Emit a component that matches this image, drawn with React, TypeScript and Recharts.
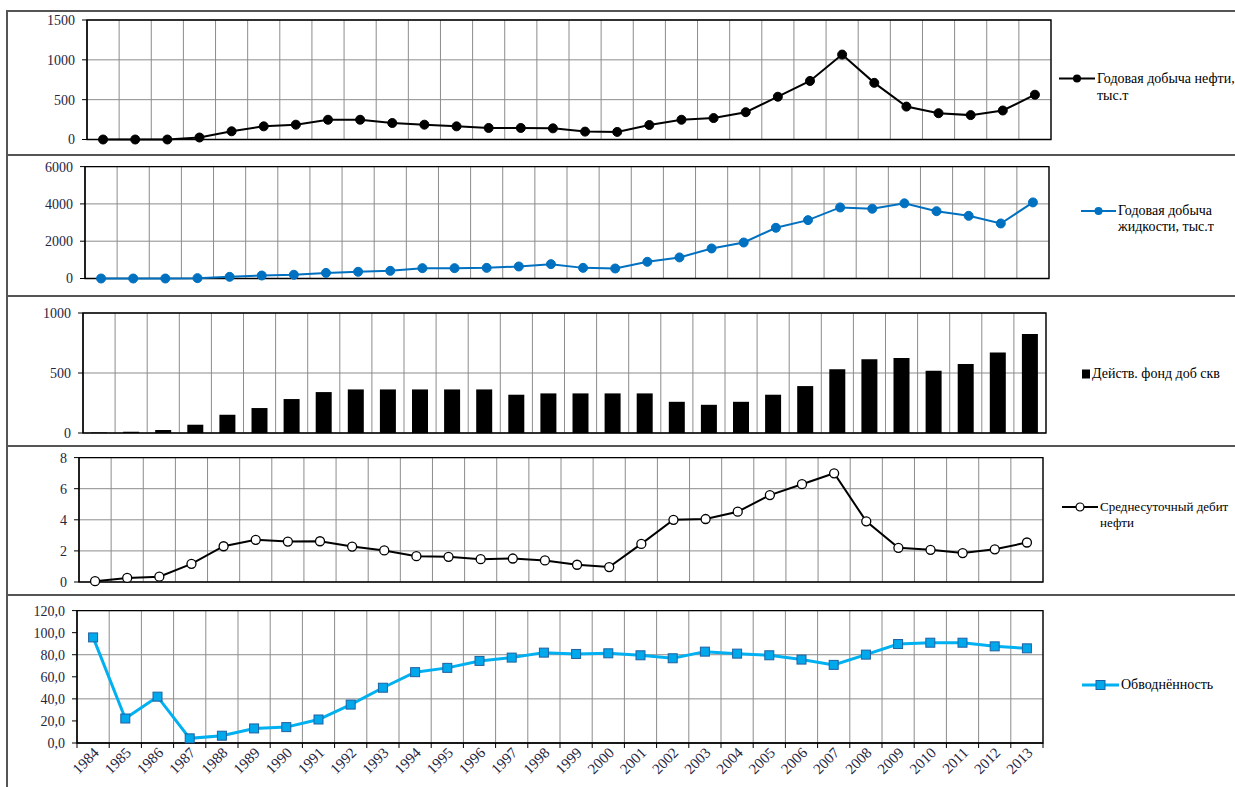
import React from 'react';
import { ComposedChart, Line, Bar, XAxis, YAxis, CartesianGrid, ReferenceArea, Legend } from 'recharts';

const years = ['1984','1985','1986','1987','1988','1989','1990','1991','1992','1993','1994','1995','1996','1997','1998','1999','2000','2001','2002','2003','2004','2005','2006','2007','2008','2009','2010','2011','2012','2013'];
const oilProduction = [0,0,0,25,103,165,186,248,248,207,186,165,145,145,140,99,95,182,248,269,343,537,735,1066,711,413,330,306,364,562];
const liquidProduction = [0,0,0,20,90,160,200,300,360,410,555,555,570,645,770,570,537,895,1130,1610,1930,2720,3130,3810,3740,4030,3610,3360,2950,4080];
const activeWells = [4,11,25,69,152,208,283,341,363,363,363,363,363,319,330,330,330,330,260,235,260,319,391,532,615,626,518,576,670,825];
const avgOilRate = [0.05,0.26,0.34,1.17,2.3,2.71,2.6,2.62,2.28,2.03,1.66,1.62,1.47,1.51,1.39,1.11,0.96,2.45,4.0,4.05,4.52,5.59,6.29,6.99,3.9,2.2,2.07,1.86,2.1,2.54];
const waterCut = [95.7,22.2,42,4.2,6.6,13.2,14.4,21.3,34.8,50.1,64.2,68.1,74.4,77.4,81.9,80.7,81.3,79.5,76.8,82.8,81,79.5,75.6,70.8,80.1,89.7,90.9,90.9,87.6,85.8];

const ticksOil = [0, 500, 1000, 1500];
const ticksLiquid = [0, 2000, 4000, 6000];
const ticksWells = [0, 500, 1000];
const ticksRate = [0, 2, 4, 6, 8];
const ticksCut = [0, 20, 40, 60, 80, 100, 120];

const data = years.map((year, i) => ({
  year,
  oil: oilProduction[i],
  liquid: liquidProduction[i],
  wells: activeWells[i],
  rate: avgOilRate[i],
  cut: waterCut[i],
}));

const FONT = '"Liberation Serif", "Times New Roman", serif';
const W = 1235;
const GRID = '#8c8c8c';
const TICK_COLOR = '#25253f';

const vGen = (props: any) => {
  const off = props.offset;
  const n = years.length;
  const out: number[] = [];
  for (let i = 0; i <= n; i++) out.push(off.left + (i * off.width) / n);
  return out;
};

type IconKind = 'lineDot' | 'lineCircle' | 'lineSquare' | 'square';

const makeLegend = (kind: IconKind, color: string, iconW: number, textW: number | undefined, lh: number, fs: number = 14) => (props: any) => {
  const name = props?.payload?.[0]?.value ?? '';
  const cy = lh / 2;
  let icon: React.ReactNode = null;
  if (kind === 'square') {
    icon = <rect x={0} y={cy - 4.5} width={8} height={9} fill={color} />;
  } else {
    const mx = iconW / 2;
    icon = (
      <g>
        <line x1={0} x2={iconW} y1={cy} y2={cy} stroke={color} strokeWidth={kind === 'lineSquare' ? 3 : 2} />
        {kind === 'lineDot' && <circle cx={mx} cy={cy} r={4} fill={color} />}
        {kind === 'lineCircle' && <circle cx={mx} cy={cy} r={4} fill="#fff" stroke="#000" strokeWidth={1.2} />}
        {kind === 'lineSquare' && <rect x={mx - 4.5} y={cy - 4.5} width={9} height={9} fill="#00a8ec" stroke="#2060a0" strokeWidth={1} />}
      </g>
    );
  }
  return (
    <div style={{ display: 'flex', alignItems: 'flex-start', fontFamily: FONT, fontSize: fs, lineHeight: `${lh}px`, color: '#000' }}>
      <svg width={iconW + 2} height={lh} style={{ flex: 'none' }}>{icon}</svg>
      <div style={{ width: textW, whiteSpace: textW ? 'normal' : 'nowrap' }}>{name}</div>
    </div>
  );
};

const yTick = { fontFamily: FONT, fontSize: 14, fill: TICK_COLOR };

const YearTick = (props: any) => {
  const { x, y, payload } = props;
  const half = typeof payload?.offset === 'number' && payload.offset > 0 ? payload.offset : 16;
  const isLast = payload?.index === years.length - 1;
  return (
    <g>
      <line x1={x - half} x2={x - half} y1={y - 7} y2={y - 2} stroke="#000" strokeWidth={1} />
      {isLast && <line x1={x + half} x2={x + half} y1={y - 7} y2={y - 2} stroke="#000" strokeWidth={1} />}
      <text x={x + 3} y={y} transform={`rotate(-45 ${x + 3} ${y})`} textAnchor="end" dy="0.35em" fontFamily={FONT} fontSize={15} fill={TICK_COLOR}>
        {payload.value}
      </text>
    </g>
  );
};

const SquareDot = (props: any) => {
  const { cx, cy, index } = props;
  if (cx == null || cy == null) return <g key={`sq-${index}`} />;
  return <rect key={`sq-${index}`} x={cx - 4.5} y={cy - 4.5} width={9} height={9} fill="#00a8ec" stroke="#2060a0" strokeWidth={1} />;
};

const Frame = () => (
  <>
    <div style={{ position: 'absolute', left: 6, top: 10, width: 1240, height: 800, borderLeft: '2px solid #555', borderTop: '2px solid #555', boxSizing: 'border-box' }} />
    {[154, 295, 445, 594].map((y) => (
      <div key={y} style={{ position: 'absolute', left: 6, top: y, width: 1240, height: 2, background: '#555' }} />
    ))}
  </>
);

export default function App() {
  return (
    <div style={{ position: 'absolute', left: 0, top: 0, width: W, height: 787, background: '#fff', overflow: 'hidden' }}>
      <Frame />

      {/* Panel 1 */}
      <div style={{ position: 'absolute', left: 0, top: 12 }}>
        <ComposedChart width={W} height={142} data={data} margin={{ top: 8, right: W - 1051, bottom: 14.5, left: 0 }}>
          <CartesianGrid stroke={GRID} verticalCoordinatesGenerator={vGen} />
          <XAxis dataKey="year" scale="band" hide />
          <YAxis width={87} domain={[0, 1500]} ticks={ticksOil} tick={yTick} tickSize={5} tickMargin={7} stroke="#000" />
          <ReferenceArea y1={0} y2={1500} fill="none" stroke="#000" strokeWidth={1.3} ifOverflow="visible" />
          <Line dataKey="oil" name="Годовая добыча нефти, тыс.т" stroke="#000" strokeWidth={2} dot={{ r: 4.5, fill: '#000', stroke: '#000', strokeWidth: 1 }} isAnimationActive={false} />
          <Legend layout="vertical" align="center" verticalAlign="middle" wrapperStyle={{ left: 1059, top: 57.5, width: 180 }} content={makeLegend('lineDot', '#000', 36, 140, 17)} />
        </ComposedChart>
      </div>

      {/* Panel 2 */}
      <div style={{ position: 'absolute', left: 0, top: 156 }}>
        <ComposedChart width={W} height={139} data={data} margin={{ top: 10.6, right: W - 1049, bottom: 16.5, left: 0 }}>
          <CartesianGrid stroke={GRID} verticalCoordinatesGenerator={vGen} />
          <XAxis dataKey="year" scale="band" hide />
          <YAxis width={85} domain={[0, 6000]} ticks={ticksLiquid} tick={yTick} tickSize={5} tickMargin={7} stroke="#000" />
          <ReferenceArea y1={0} y2={6000} fill="none" stroke="#000" strokeWidth={1.3} ifOverflow="visible" />
          <Line dataKey="liquid" name="Годовая добыча жидкости, тыс.т" stroke="#0070c0" strokeWidth={2} dot={{ r: 4.5, fill: '#0070c0', stroke: '#0070c0', strokeWidth: 1 }} isAnimationActive={false} />
          <Legend layout="vertical" align="center" verticalAlign="middle" wrapperStyle={{ left: 1081, top: 47, width: 150 }} content={makeLegend('lineDot', '#0070c0', 35, 105, 16)} />
        </ComposedChart>
      </div>

      {/* Panel 3 */}
      <div style={{ position: 'absolute', left: 0, top: 297 }}>
        <ComposedChart width={W} height={148} data={data} margin={{ top: 16, right: W - 1046, bottom: 12, left: 0 }}>
          <CartesianGrid stroke={GRID} verticalCoordinatesGenerator={vGen} />
          <XAxis dataKey="year" scale="band" hide />
          <YAxis width={83} domain={[0, 1000]} ticks={ticksWells} tick={yTick} tickSize={5} tickMargin={7} stroke="#000" />
          <ReferenceArea y1={0} y2={1000} fill="none" stroke="#000" strokeWidth={1.3} ifOverflow="visible" />
          <Bar dataKey="wells" name="Действ. фонд доб скв" fill="#000" barSize={16} isAnimationActive={false} />
          <Legend layout="vertical" align="center" verticalAlign="middle" wrapperStyle={{ left: 1082, top: 69, width: 150 }} content={makeLegend('square', '#000', 8, undefined, 16)} />
        </ComposedChart>
      </div>

      {/* Panel 4 */}
      <div style={{ position: 'absolute', left: 0, top: 447 }}>
        <ComposedChart width={W} height={147} data={data} margin={{ top: 10.6, right: W - 1043, bottom: 12, left: 0 }}>
          <CartesianGrid stroke={GRID} verticalCoordinatesGenerator={vGen} />
          <XAxis dataKey="year" scale="band" hide />
          <YAxis width={79} domain={[0, 8]} ticks={ticksRate} tick={yTick} tickSize={5} tickMargin={7} stroke="#000" />
          <ReferenceArea y1={0} y2={8} fill="none" stroke="#000" strokeWidth={1.3} ifOverflow="visible" />
          <Line dataKey="rate" name="Среднесуточный дебит нефти" stroke="#000" strokeWidth={2} dot={{ r: 4.5, fill: '#fff', stroke: '#000', strokeWidth: 1.3 }} isAnimationActive={false} />
          <Legend layout="vertical" align="center" verticalAlign="middle" wrapperStyle={{ left: 1062, top: 52, width: 175 }} content={makeLegend('lineCircle', '#000', 36, 135, 16, 13)} />
        </ComposedChart>
      </div>

      {/* Panel 5 */}
      <div style={{ position: 'absolute', left: 0, top: 596 }}>
        <ComposedChart width={W} height={191} data={data} margin={{ top: 14.6, right: W - 1043, bottom: 0, left: 0 }}>
          <CartesianGrid stroke={GRID} verticalCoordinatesGenerator={vGen} />
          <XAxis dataKey="year" scale="band" height={44} interval={0} tickLine={false} tickSize={5} tickMargin={2} tick={<YearTick />} stroke="#000" />
          <YAxis width={77} domain={[0, 120]} ticks={ticksCut} tick={yTick} tickSize={5} tickMargin={7} stroke="#000" tickFormatter={(v: number) => v.toFixed(1).replace('.', ',')} />
          <ReferenceArea y1={0} y2={120} fill="none" stroke="#000" strokeWidth={1.3} ifOverflow="visible" />
          <Line dataKey="cut" name="Обводнённость" stroke="#00b0f0" strokeWidth={3} dot={<SquareDot />} isAnimationActive={false} />
          <Legend layout="vertical" align="center" verticalAlign="middle" wrapperStyle={{ left: 1082, top: 81, width: 150 }} content={makeLegend('lineSquare', '#00b0f0', 37, undefined, 16)} />
        </ComposedChart>
      </div>
    </div>
  );
}
